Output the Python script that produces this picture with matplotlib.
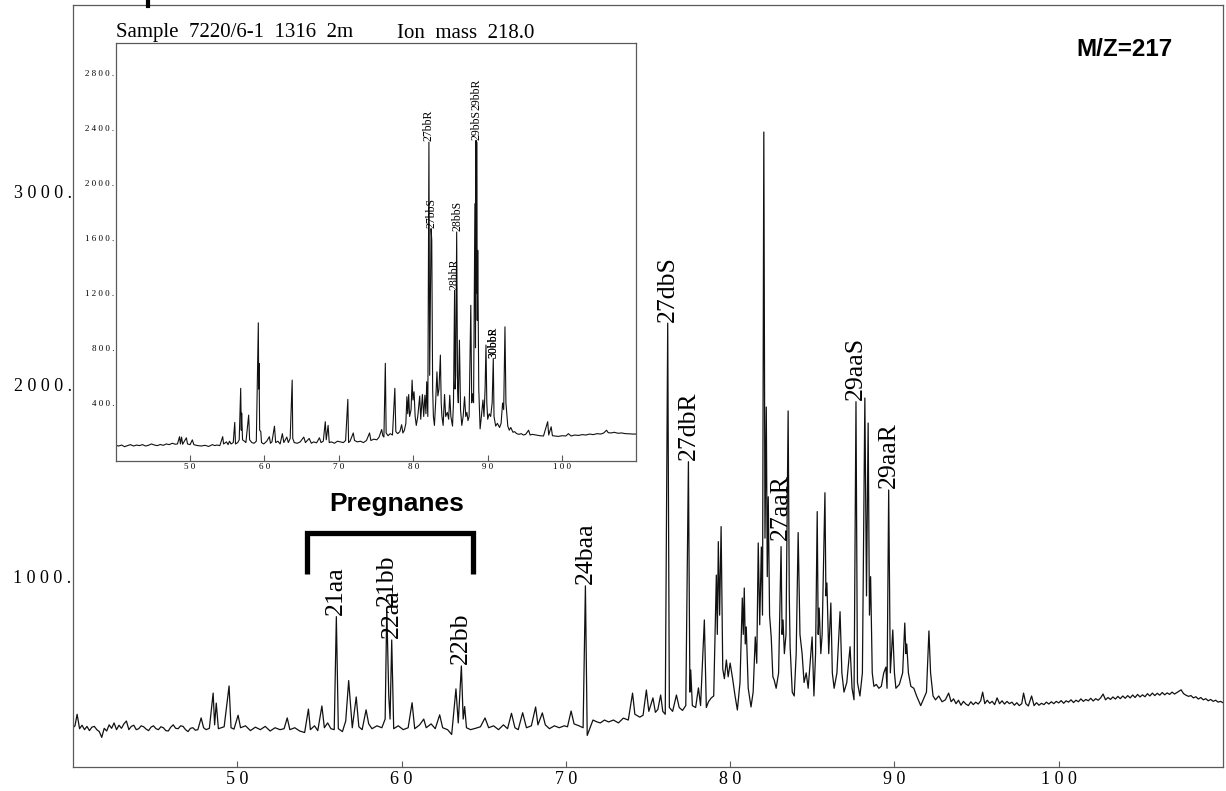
import matplotlib
matplotlib.use("Agg")
import matplotlib.pyplot as plt
from matplotlib.lines import Line2D

# ---- main trace, m/z 217 (retention time, abundance), in three pieces ----
head_rt = [
    40.0, 40.12, 40.25, 40.4, 40.55, 40.7, 40.85, 41.0, 41.15, 41.3,
    41.45, 41.6, 41.75, 41.9, 42.05, 42.2, 42.35, 42.5, 42.65, 42.8,
    42.95, 43.1, 43.25, 43.4, 43.55, 43.7, 43.85, 44.0, 44.15, 44.3,
    44.45, 44.6, 44.75, 44.9, 45.05, 45.2, 45.35, 45.5, 45.65, 45.8,
    45.95, 46.1, 46.25, 46.4, 46.55, 46.7, 46.85, 47.0, 47.15, 47.3,
    47.45, 47.6, 47.8, 47.95, 48.1, 48.3,
]
head_int = [
    215, 225, 285, 210, 228, 205, 222, 200, 218, 222,
    205, 195, 165, 212, 198, 230, 212, 240, 205, 228,
    212, 235, 250, 205, 222, 228, 205, 210, 225, 220,
    208, 200, 218, 225, 210, 205, 220, 215, 200, 198,
    218, 230, 212, 210, 225, 222, 205, 195, 212, 215,
    202, 205, 266, 215, 205, 212,
]
main_rt = [
    48.53, 48.62, 48.72, 48.85, 49.2, 49.5, 49.62, 49.8,
    50.05, 50.2, 50.5, 50.8, 51.1, 51.4, 51.7, 52.0, 52.3, 52.6, 52.85, 53.04, 53.2, 53.5,
    53.8, 54.1, 54.33, 54.45, 54.7, 54.9, 55.15, 55.3, 55.5, 55.7, 55.9, 56.03, 56.15,
    56.4, 56.6, 56.78, 56.9, 57.0, 57.24, 57.4, 57.6, 57.84, 58.0, 58.2, 58.5, 58.8, 59.0,
    59.1, 59.22, 59.3, 59.4, 59.52, 59.8, 60.1, 60.4, 60.64, 60.8, 61.1, 61.35, 61.5, 61.8,
    62.05, 62.32, 62.5, 62.8, 63.05, 63.31, 63.45, 63.64, 63.75, 63.84, 63.95, 64.2, 64.5,
    64.8, 65.08, 65.3, 65.6, 65.9, 66.2, 66.45, 66.69, 66.9, 67.1, 67.37, 67.6, 67.9,
    68.16, 68.3, 68.57, 68.75, 69.0, 69.3, 69.6, 69.9, 70.1, 70.32, 70.5, 70.8, 71.05,
    71.19, 71.3, 71.45, 71.65, 71.9, 72.1, 72.35, 72.6, 72.9, 73.2, 73.5, 73.8, 74.06,
    74.2, 74.5, 74.7, 74.9, 75.05, 75.3, 75.45, 75.6, 75.77, 75.9, 76.05, 76.2, 76.3,
    76.5, 76.73, 76.9, 77.1, 77.3, 77.46, 77.55, 77.6, 77.7, 77.9, 78.07, 78.2, 78.43,
    78.55, 78.68, 78.85, 79.0, 79.16, 79.22, 79.28, 79.36, 79.45, 79.55, 79.65, 79.77,
    79.88, 80.0, 80.15, 80.3, 80.44, 80.6, 80.74, 80.8, 80.86, 80.92, 80.98, 81.1, 81.27,
    81.4, 81.53, 81.62, 81.71, 81.8, 81.9, 81.97, 82.05, 82.12, 82.2, 82.26, 82.32, 82.4,
    82.5, 82.6, 82.68, 82.8, 82.95, 83.1, 83.16, 83.22, 83.3, 83.4, 83.53, 83.6, 83.65,
    83.78, 83.9, 84.02, 84.14, 84.25, 84.38, 84.5, 84.63, 84.75, 84.87, 84.99, 85.1,
    85.2, 85.3, 85.36, 85.42, 85.52, 85.6, 85.77, 85.83, 85.89, 86.0, 86.13, 86.22,
    86.33, 86.5, 86.69, 86.8, 86.93, 87.1, 87.3, 87.42, 87.54, 87.66, 87.75, 87.9, 88.05,
    88.2, 88.3, 88.4, 88.48, 88.55, 88.65, 88.75, 88.9, 89.05, 89.2, 89.35, 89.48, 89.55,
    89.65, 89.75, 89.9, 90.0, 90.09, 90.3, 90.5, 90.63, 90.7, 90.75, 90.85, 91.0, 91.18,
    91.35, 91.6, 91.8, 91.95, 92.1, 92.2, 92.35, 92.5, 92.7, 92.9,
]
main_int = [
    395, 230, 343, 210, 220, 432, 215, 208,
    280, 215, 225, 200, 218, 205, 222, 198, 215, 205, 210, 266, 205, 215,
    198, 190, 312, 205, 225, 200, 328, 215, 240, 210, 205, 792, 210,
    195, 250, 460, 330, 215, 375, 220, 205, 308, 235, 210, 225, 215, 260,
    837, 380, 260, 671, 210, 225, 205, 215, 345, 210, 230, 260, 215, 235,
    210, 282, 215, 205, 180, 417, 240, 536, 260, 325, 215, 205, 212,
    220, 266, 215, 225, 205, 230, 210, 290, 215, 205, 293, 215, 225,
    323, 230, 292, 230, 210, 225, 215, 225, 220, 302, 235, 225, 215,
    952, 175, 210, 255, 245, 240, 255, 245, 255, 240, 265, 255, 395,
    285, 270, 280, 411, 300, 370, 295, 310, 385, 300, 285, 2317, 320,
    300, 385, 320, 305, 330, 1597, 400, 515, 330, 320, 422, 330, 775,
    320, 350, 370, 380, 1008, 700, 1182, 800, 1260, 520, 470, 567,
    480, 551, 470, 380, 307, 450, 889, 700, 941, 650, 739, 420, 323,
    400, 687, 550, 1175, 750, 1154, 800, 3310, 1200, 1881, 1000, 1415, 800,
    687, 480, 463, 420, 500, 1156, 700, 775, 600, 700, 1861, 900, 636,
    400, 380, 600, 1229, 700, 600, 450, 500, 420, 550, 687, 380,
    600, 1338, 700, 837, 600, 700, 1436, 900, 967, 600, 863, 500,
    420, 500, 818, 500, 400, 450, 636, 420, 360, 1909, 450, 380, 500,
    1928, 900, 1798, 800, 1000, 500, 430, 440, 420, 430, 500, 530, 420,
    1450, 500, 723, 500, 420, 440, 500, 759, 600, 650, 500, 430, 420,
    380, 330, 370, 400, 718, 500, 380, 360, 380, 350,
]
tail_rt = [
    93.1, 93.3, 93.45, 93.6, 93.75, 93.9, 94.05, 94.2, 94.35, 94.5,
    94.65, 94.8, 94.95, 95.1, 95.25, 95.37, 95.5, 95.65, 95.8, 95.95,
    96.1, 96.25, 96.4, 96.55, 96.7, 96.85, 97.0, 97.15, 97.3, 97.45,
    97.6, 97.75, 97.86, 98.0, 98.15, 98.35, 98.5, 98.65, 98.8, 98.95,
    99.1, 99.25, 99.4, 99.55, 99.7, 99.85, 100.0, 100.15, 100.3, 100.45,
    100.6, 100.75, 100.9, 101.05, 101.2, 101.35, 101.5, 101.65, 101.8, 101.95,
    102.1, 102.25, 102.4, 102.55, 102.7, 102.85, 103.0, 103.15, 103.3, 103.45,
    103.6, 103.75, 103.9, 104.05, 104.2, 104.35, 104.5, 104.65, 104.8, 104.95,
    105.1, 105.25, 105.4, 105.55, 105.7, 105.85, 106.0, 106.15, 106.3, 106.45,
    106.6, 106.75, 106.9, 107.05, 107.2, 107.45, 107.6, 107.75, 107.9, 108.05,
    108.2, 108.35, 108.5, 108.65, 108.8, 108.95, 109.1, 109.25, 109.4, 109.55,
    109.7, 109.85, 110.0,
]
tail_int = [
    360, 395, 350, 365, 340, 358, 332, 352, 338, 330,
    350, 335, 348, 338, 355, 400, 340, 358, 342, 352,
    335, 370, 340, 355, 338, 352, 340, 348, 332, 345,
    330, 340, 395, 340, 328, 380, 330, 345, 332, 342,
    335, 348, 338, 350, 340, 352, 344, 356, 342, 355,
    348, 360, 346, 358, 350, 365, 352, 362, 355, 368,
    354, 366, 358, 370, 390, 360, 372, 362, 375, 364,
    378, 366, 380, 368, 382, 370, 385, 372, 388, 375,
    386, 376, 392, 380, 395, 382, 394, 384, 398, 386,
    396, 388, 400, 390, 398, 412, 392, 384, 378, 382,
    370, 376, 364, 372, 360, 366, 355, 362, 352, 358,
    348, 352, 345,
]

# ---- inset trace, ion mass 218 ----
inset_rt = [
    40.0, 40.4, 40.8, 41.2, 41.6, 42.0, 42.4, 42.8, 43.2, 43.6, 44.0, 44.4, 44.8, 45.2,
    45.6, 46.0, 46.4, 46.8, 47.2, 47.6, 48.0, 48.3, 48.58, 48.7, 48.85, 49.0, 49.5, 49.65,
    50.0, 50.3, 50.5, 51.0, 51.5, 52.0, 52.5, 53.0, 53.3, 53.6, 54.0, 54.38, 54.5, 54.9,
    55.1, 55.3, 55.5, 55.8, 56.0, 56.1, 56.4, 56.6, 56.8, 56.88, 56.93, 57.05, 57.3, 57.5,
    57.87, 58.0, 58.3, 58.6, 58.9, 59.17, 59.22, 59.26, 59.35, 59.5, 59.6, 59.9, 60.3,
    60.65, 60.8, 61.0, 61.34, 61.5, 61.8, 62.1, 62.4, 62.6, 63.0, 63.2, 63.45, 63.72, 63.8,
    64.0, 64.4, 64.8, 65.28, 65.5, 66.0, 66.3, 66.6, 67.0, 67.38, 67.6, 67.9, 68.17, 68.3,
    68.55, 68.7, 69.0, 69.4, 69.8, 70.2, 70.6, 70.9, 71.2, 71.3, 71.5, 71.93, 72.1, 72.5,
    72.9, 73.3, 73.7, 74.12, 74.3, 74.7, 75.1, 75.4, 75.75, 75.9, 76.05, 76.24, 76.35,
    76.6, 76.9, 77.2, 77.52, 77.65, 77.9, 78.2, 78.43, 78.6, 78.8, 79.0, 79.14, 79.25,
    79.38, 79.5, 79.7, 79.84, 79.95, 80.1, 80.25, 80.4, 80.6, 80.86, 81.0, 81.22, 81.4,
    81.56, 81.7, 81.8, 81.95, 82.1, 82.2, 82.3, 82.39, 82.48, 82.6, 82.7, 82.84, 83.0,
    83.18, 83.3, 83.45, 83.64, 83.75, 83.85, 84.01, 84.2, 84.35, 84.57, 84.75, 84.9,
    85.05, 85.27, 85.4, 85.55, 85.62, 85.7, 85.83, 85.95, 86.05, 86.2, 86.35, 86.52,
    86.7, 86.89, 87.05, 87.2, 87.35, 87.5, 87.73, 87.85, 87.96, 88.1, 88.28, 88.36,
    88.43, 88.48, 88.52, 88.6, 88.66, 88.8, 88.98, 89.15, 89.36, 89.5, 89.65, 89.77,
    89.88, 90.0, 90.2, 90.4, 90.6, 90.75, 90.85, 91.07, 91.3, 91.6, 91.8, 92.0, 92.15,
    92.32, 92.45, 92.7, 92.9, 93.1, 93.4, 93.6, 93.9, 94.2, 94.5, 94.8, 95.1, 95.5, 95.7,
    96.0, 96.5, 97.0, 97.5, 98.06, 98.2, 98.53, 98.7, 99.0, 99.5, 100.0, 100.5, 100.85,
    101.2, 101.7, 102.2, 102.7, 103.2, 103.7, 104.2, 104.7, 105.2, 105.6, 105.97, 106.2,
    106.6, 107.0, 107.5, 108.0, 108.5, 109.0, 109.5, 110.0,
]
inset_int = [
    90, 85, 92, 80, 88, 95, 85, 92, 88, 95, 85, 90, 100, 92,
    88, 96, 90, 100, 95, 105, 98, 100, 153, 100, 150, 98, 145, 100,
    95, 130, 95, 88, 85, 90, 82, 95, 88, 92, 88, 153, 100, 115,
    95, 120, 100, 110, 257, 100, 110, 130, 505, 200, 325, 130, 120, 110,
    310, 130, 110, 105, 120, 982, 500, 687, 200, 190, 110, 100, 120,
    153, 105, 115, 229, 110, 120, 100, 175, 110, 150, 110, 140, 565, 140,
    110, 105, 115, 150, 110, 140, 105, 115, 108, 145, 110, 120, 262, 130,
    235, 110, 115, 105, 120, 115, 110, 125, 425, 110, 120, 180, 125, 115,
    120, 110, 125, 180, 125, 135, 130, 150, 205, 160, 150, 687, 180,
    160, 175, 165, 505, 190, 175, 190, 240, 180, 200, 250, 444, 320,
    460, 300, 350, 565, 420, 480, 300, 235, 300, 449, 280, 460, 300,
    455, 320, 553, 300, 2298, 600, 1200, 1668, 1583, 500, 300, 235, 400,
    625, 450, 500, 747, 400, 300, 235, 460, 300, 330, 280, 455,
    300, 230, 400, 1219, 500, 600, 1644, 500, 400, 856, 350, 235,
    300, 444, 300, 330, 270, 300, 1110, 400, 465, 400, 1850, 800,
    2311, 1200, 2300, 1000, 1510, 500, 210, 300, 420, 300, 500, 820,
    400, 280, 320, 300, 400, 723, 300, 230, 250, 220, 250, 398, 350,
    953, 400, 230, 200, 220, 185, 190, 175, 170, 175, 165, 170, 200, 165,
    170, 165, 160, 158, 262, 165, 225, 160, 158, 155, 160, 158, 175,
    158, 165, 162, 168, 165, 172, 168, 175, 172, 180, 200, 182,
    180, 185, 178, 180, 175, 174, 172, 172,
]

# peak labels
main_labels = ['21aa', '21bb', '22aa', '22bb', '24baa', '27dbS', '27dbR', '27aaR', '29aaS', '29aaR']
main_label_rt = [56.03, 59.1, 59.4, 63.64, 71.19, 76.2, 77.46, 83.1, 87.66, 89.65]
main_label_y = [792, 837, 671, 536, 952, 2317, 1597, 1180, 1909, 1450]

inset_labels = ['27bbR', '27bbS', '28bbR', '28bbS', '29bbS', '29bbR', '30bbS', '30bbR']
inset_label_rt = [82.1, 82.45, 85.55, 85.88, 88.43, 88.5, 90.72, 90.78]
inset_label_y = [2298, 1668, 1219, 1644, 2311, 2530, 723, 723]

main_xticks = [50, 60, 70, 80, 90, 100]
main_xticklabels = ['5 0', '6 0', '7 0', '8 0', '9 0', '1 0 0']
main_yticks = [1000, 2000, 3000]
main_yticklabels = ['1 0 0 0 .', '2 0 0 0 .', '3 0 0 0 .']
inset_yticks = [400, 800, 1200, 1600, 2000, 2400, 2800]
inset_yticklabels = ['4 0 0 .', '8 0 0 .', '1 2 0 0 .', '1 6 0 0 .', '2 0 0 0 .', '2 4 0 0 .', '2 8 0 0 .']

pregnane_range = (54.27, 64.35)
pregnane_bracket_y = (1014, 1227)

W, H = 1226, 791
serif = 'Liberation Serif'
sans = 'Liberation Sans'
spine_col = '#5a5a5a'


def style_axes(ax, xtick_size, ytick_size, xpad, ticklen):
    for s in ax.spines.values():
        s.set_color(spine_col)
        s.set_linewidth(0.9)
    ax.tick_params(axis='x', direction='in', length=ticklen, width=0.8,
                   color=spine_col, pad=xpad, labelsize=xtick_size)
    ax.tick_params(axis='y', length=0, pad=1, labelsize=ytick_size)
    for lab in ax.get_xticklabels() + ax.get_yticklabels():
        lab.set_fontfamily(serif)


def main():
    fig = plt.figure(figsize=(W / 100, H / 100), dpi=100)

    rt = head_rt + main_rt + tail_rt
    ab = head_int + main_int + tail_int

    # main chromatogram
    ax = fig.add_axes([73 / W, (H - 767) / H, (1223 - 73) / W, (767 - 5) / H])
    ax.plot(rt, ab, color='#111111', lw=0.9)
    ax.set_xlim(40, 110)
    ax.set_ylim(11, 3970)
    ax.set_xticks(main_xticks)
    ax.set_xticklabels(main_xticklabels)
    ax.set_yticks(main_yticks)
    ax.set_yticklabels(main_yticklabels)
    style_axes(ax, 13, 13, 3, 4.5)

    for name, x, y in zip(main_labels, main_label_rt, main_label_y):
        ax.text(x, y + 8, name, rotation=90, ha='center', va='bottom',
                fontsize=18.5, family=serif)

    x0, x1 = pregnane_range
    y0, y1 = pregnane_bracket_y
    ax.plot([x0, x0, x1, x1], [y0, y1, y1, y0], color='black', lw=3.8,
            solid_joinstyle='miter', solid_capstyle='butt')
    ax.text((x0 + x1) / 2 + 0.4, 1378, 'Pregnanes', ha='center', va='center',
            fontsize=19, fontweight='bold', family=sans)

    fig.text(1124 / W, (H - 50) / H, 'M/Z=217', ha='center', va='center',
             fontsize=17.5, fontweight='bold', family=sans)

    # inset chromatogram
    axi = fig.add_axes([115.7 / W, (H - 460.7) / H, (636.5 - 115.7) / W, (460.7 - 43.3) / H])
    axi.set_facecolor('white')
    axi.plot(inset_rt, inset_int, color='#111111', lw=0.8)
    axi.set_xlim(40, 110)
    axi.set_ylim(-22, 3018)
    axi.set_xticks(main_xticks)
    axi.set_xticklabels(main_xticklabels)
    axi.set_yticks(inset_yticks)
    axi.set_yticklabels(inset_yticklabels)
    style_axes(axi, 6.5, 6.5, 2, 4)

    for name, x, y in zip(inset_labels, inset_label_rt, inset_label_y):
        axi.text(x, y + 5, name, rotation=90, ha='center', va='bottom',
                 fontsize=8.5, family=serif)

    fig.text(116 / W, (H - 33) / H, 'Sample  7220/6-1  1316  2m', ha='left', va='center',
             fontsize=15, family=serif)
    fig.text(397 / W, (H - 33) / H, 'Ion  mass  218.0', ha='left', va='center',
             fontsize=15, family=serif)

    # cut-off mark at the very top of the scan
    fig.add_artist(Line2D([148 / W, 148 / W], [1.0, (H - 6) / H], lw=3, color='black'))

    fig.savefig('out.png', dpi=100)


if __name__ == "__main__":
    main()
